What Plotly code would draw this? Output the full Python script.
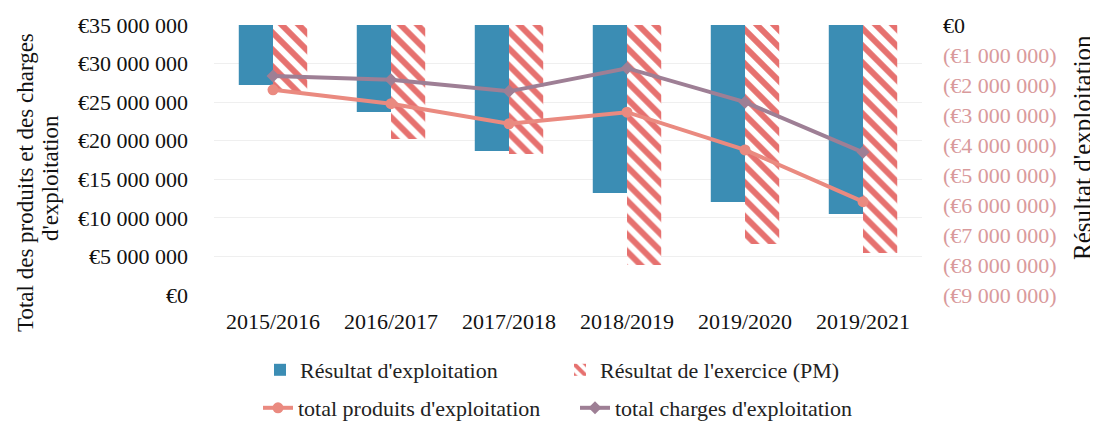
import plotly.graph_objects as go

years = ["2015/2016", "2016/2017", "2017/2018", "2018/2019", "2019/2020", "2019/2021"]
resultat_exploitation = [-2.0e6, -2.9e6, -4.2e6, -5.6e6, -5.9e6, -6.3e6]
resultat_exercice = [-2.2e6, -3.8e6, -4.3e6, -8.0e6, -7.3e6, -7.6e6]
total_produits = [26.6e6, 24.8e6, 22.2e6, 23.7e6, 18.8e6, 12.1e6]
total_charges = [28.4e6, 27.9e6, 26.4e6, 29.4e6, 25.0e6, 18.5e6]

left_tickvals = [0, 5e6, 10e6, 15e6, 20e6, 25e6, 30e6, 35e6]
left_ticktext = ["€0", "€5 000 000", "€10 000 000", "€15 000 000", "€20 000 000",
                 "€25 000 000", "€30 000 000", "€35 000 000"]
right_tickvals = [0, -1e6, -2e6, -3e6, -4e6, -5e6, -6e6, -7e6, -8e6, -9e6]
right_ticktext = ['<span style="color:#111">€0</span>', "(€1 000 000)", "(€2 000 000)",
                  "(€3 000 000)", "(€4 000 000)", "(€5 000 000)", "(€6 000 000)",
                  "(€7 000 000)", "(€8 000 000)", "(€9 000 000)"]

SERIF = "Liberation Serif, Times New Roman, serif"
BLUE = "#3b8db4"
RED = "#e6716f"
PROD = "#ea8a80"
CHARG = "#9e7f95"

W, H = 1090, 413
L, R, T, B = 206, 176, 17, 126
PW, PH = W - L - R, H - T - B

fig = go.Figure()
fig.add_trace(go.Bar(
    x=years, y=resultat_exploitation, name="Résultat d'exploitation",
    marker=dict(color=BLUE, line=dict(width=0)), yaxis="y", legend="legend",
))
fig.add_trace(go.Bar(
    x=years, y=resultat_exercice, name="Résultat de l'exercice (PM)",
    marker=dict(color="white", line=dict(width=0),
                pattern=dict(shape="\\", fgcolor=RED, fgopacity=1, bgcolor="white",
                             size=12, solidity=0.5, fillmode="overlay")),
    yaxis="y", legend="legend",
))
fig.add_trace(go.Scatter(
    x=years, y=total_produits, name="total produits d'exploitation",
    mode="lines+markers", line=dict(color=PROD, width=4),
    marker=dict(size=11, color=PROD), yaxis="y2", legend="legend2",
))
fig.add_trace(go.Scatter(
    x=years, y=total_charges, name="total charges d'exploitation",
    mode="lines+markers", line=dict(color=CHARG, width=4),
    marker=dict(size=10, color=CHARG, symbol="diamond"), yaxis="y2", legend="legend2",
))


def px_x(px):
    return (px - L) / PW


def px_y(py):
    return (H - B - py) / PH


fig.update_layout(
    width=W, height=H,
    margin=dict(l=L, r=R, t=T, b=B, autoexpand=False),
    paper_bgcolor="white", plot_bgcolor="white",
    font=dict(family=SERIF, size=22, color="#111"),
    barmode="group", bargap=0.42, bargroupgap=0,
    showlegend=True,
    xaxis=dict(showgrid=False, showline=False, zeroline=False, ticks="",
               tickfont=dict(family=SERIF, size=22, color="#111"),
               ticklabelstandoff=11),
    yaxis=dict(side="right", range=[-9e6, 0], tickvals=right_tickvals,
               ticktext=right_ticktext, showgrid=False, zeroline=False,
               tickfont=dict(family=SERIF, size=22, color="#d99a9c"),
               ticklabelstandoff=20),
    yaxis2=dict(side="left", overlaying="y", range=[0, 35e6], tickvals=left_tickvals,
                ticktext=left_ticktext, showgrid=True, gridcolor="#efefef",
                zeroline=False, tickfont=dict(family=SERIF, size=22, color="#111"),
                ticklabelstandoff=25),
    legend=dict(orientation="h", xref="container", yref="container",
                x=252 / W, xanchor="left", y=1 - 362 / H, yanchor="middle",
                entrywidth=255, entrywidthmode="pixels",
                font=dict(family=SERIF, size=22, color="#222"), traceorder="normal"),
    legend2=dict(orientation="h", xref="container", yref="container",
                 x=250 / W, xanchor="left", y=1 - 400 / H, yanchor="middle",
                 entrywidth=272, entrywidthmode="pixels",
                 font=dict(family=SERIF, size=22, color="#222"), traceorder="normal"),
    annotations=[
        dict(text="Total des produits et des charges", textangle=-90, xref="paper",
             yref="paper", x=px_x(17), y=px_y(175), xanchor="center",
             yanchor="middle", showarrow=False,
             font=dict(family=SERIF, size=23, color="#111")),
        dict(text="d'exploitation", textangle=-90, xref="paper", yref="paper",
             x=px_x(42), y=px_y(170), xanchor="center", yanchor="middle",
             showarrow=False, font=dict(family=SERIF, size=23, color="#111")),
        dict(text="Résultat d'exploitation", textangle=-90, xref="paper", yref="paper",
             x=px_x(1074), y=px_y(140), xanchor="center",
             yanchor="middle", showarrow=False,
             font=dict(family=SERIF, size=25, color="#111")),
    ],
)

fig.write_html("out.html")
